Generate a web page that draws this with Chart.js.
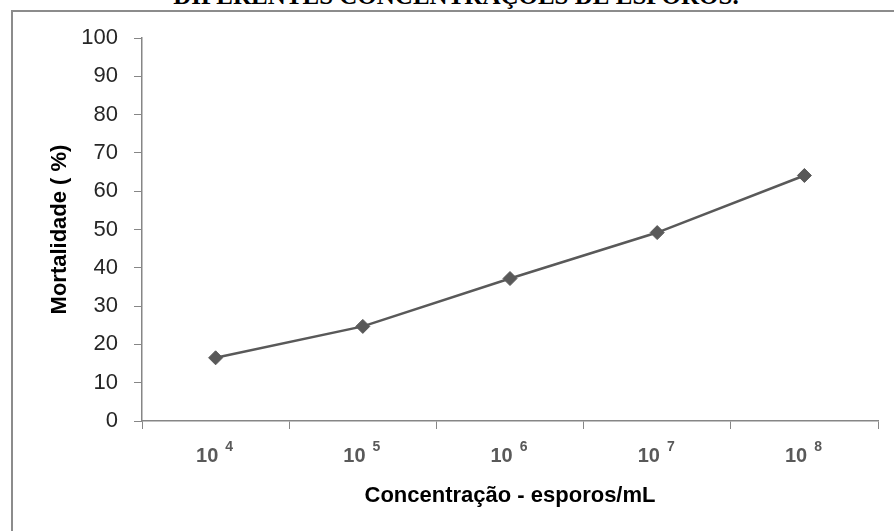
<!DOCTYPE html>
<html>
<head>
<meta charset="utf-8">
<script src="https://cdn.jsdelivr.net/npm/chart.js@4.4.1/dist/chart.umd.min.js"></script>
<style>
  html, body { margin: 0; padding: 0; background: #ffffff; overflow: hidden; }
  body { width: 894px; height: 531px; position: relative; }
  #frame { position: absolute; left: 11px; top: 10px; width: 1000px; height: 700px;
           border: 2px solid #8c8c8c; box-sizing: border-box; }
  #heading { position: absolute; left: 0; width: 912px; top: -17px; text-align: center;
             font-family: "Liberation Serif", "Times New Roman", serif; font-weight: bold;
             font-size: 25px; line-height: 25px; color: #000; white-space: nowrap; }
  #wrap { position: absolute; left: 0; top: 0; width: 894px; height: 531px; }
</style>
</head>
<body>
<div id="heading">DIFERENTES CONCENTRAÇÕES DE ESPOROS.</div>
<div id="frame"></div>
<div id="wrap"><canvas id="c" width="894" height="531"></canvas></div>
<script>
const categories = ["10^4", "10^5", "10^6", "10^7", "10^8"];
const tickBases = ["10", "10", "10", "10", "10"];
const tickExponents = ["4", "5", "6", "7", "8"];
const mortalidade = [16.5, 24.7, 37.2, 49.2, 64.1];
const yTicks = [0, 10, 20, 30, 40, 50, 60, 70, 80, 90, 100];

const axisGray = "#868686";
const lineGray = "#595959";
const FONT = "'Liberation Sans', Arial, sans-serif";

const superscriptLabels = {
  id: "superscriptLabels",
  afterDraw(chart) {
    const ctx = chart.ctx;
    const xs = chart.scales.x;
    const baseY = xs.top + 8 + 13;
    ctx.save();
    ctx.fillStyle = "#595959";
    ctx.textBaseline = "top";
    ctx.textAlign = "left";
    categories.forEach((c, i) => {
      const cx = xs.getPixelForValue(i);
      ctx.font = "bold 20px " + FONT;
      const wb = ctx.measureText(tickBases[i]).width;
      ctx.font = "bold 14px " + FONT;
      const we = ctx.measureText(tickExponents[i]).width;
      const gap = 7;
      const total = wb + gap + we;
      const left = cx - total / 2 - 1;
      ctx.font = "bold 20px " + FONT;
      ctx.fillText(tickBases[i], left, baseY + 4);
      ctx.font = "bold 14px " + FONT;
      ctx.fillText(tickExponents[i], left + wb + gap, baseY - 2);
    });
    ctx.restore();
  }
};

new Chart(document.getElementById("c"), {
  type: "line",
  data: {
    labels: categories,
    datasets: [{
      data: mortalidade,
      borderColor: lineGray,
      backgroundColor: lineGray,
      borderWidth: 2.5,
      pointStyle: "rectRot",
      pointRadius: 7,
      pointBackgroundColor: lineGray,
      pointBorderColor: lineGray,
      pointBorderWidth: 1,
      tension: 0,
      fill: false
    }]
  },
  options: {
    responsive: false,
    animation: false,
    devicePixelRatio: 1,
    layout: { padding: { top: 38, right: 16, left: 0, bottom: 0 } },
    plugins: { legend: { display: false }, tooltip: { enabled: false }, title: { display: false } },
    scales: {
      x: {
        type: "category",
        offset: true,
        grid: { display: true, offset: true, drawOnChartArea: false, drawTicks: true,
                tickLength: 8, color: axisGray, lineWidth: 1 },
        border: { display: true, color: axisGray, width: 1.5 },
        ticks: { color: "rgba(0,0,0,0)", font: { family: FONT, size: 20, weight: "bold" },
                 padding: 14, maxRotation: 0, autoSkip: false },
        title: { display: true, text: "Concentração - esporos/mL", color: "#000000",
                 font: { family: FONT, size: 22, weight: "bold" },
                 padding: { top: 0, bottom: 22 } },
        afterFit: (s) => { s.height = 110; }
      },
      y: {
        min: 0, max: 100,
        afterBuildTicks: (s) => { s.ticks = yTicks.map(v => ({ value: v })); },
        grid: { display: true, drawOnChartArea: false, drawTicks: true,
                tickLength: 8, color: axisGray, lineWidth: 1 },
        border: { display: true, color: axisGray, width: 1.5 },
        ticks: { color: "#262626", font: { family: FONT, size: 22 }, padding: 16 },
        title: { display: true, text: "Mortalidade ( %)", color: "#000000",
                 font: { family: FONT, size: 22, weight: "bold" },
                 padding: { top: 47, bottom: 0 } },
        afterFit: (s) => { s.width = 142; }
      }
    }
  },
  plugins: [superscriptLabels]
});
</script>
</body>
</html>
